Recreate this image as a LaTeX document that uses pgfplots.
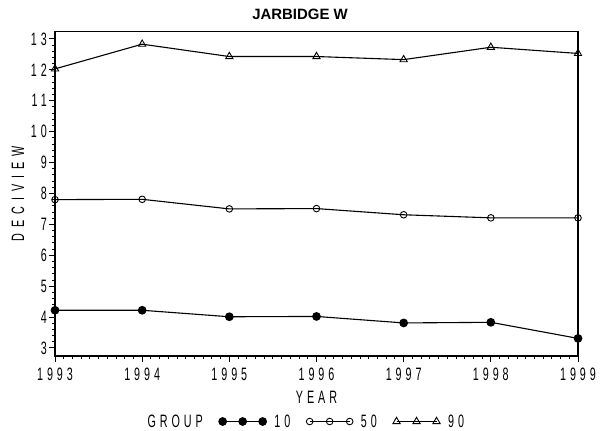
\documentclass[border=0pt]{standalone}
\usepackage{fontspec}
\setmainfont{Liberation Sans}
\newfontfamily\sas{Liberation Sans}[FakeStretch=0.6, LetterSpace=22]
\newfontfamily\sasw{Liberation Sans}[FakeStretch=0.6, LetterSpace=33]
\usepackage{pgfplots}
\pgfplotsset{compat=1.18}
\begin{document}
\begin{tikzpicture}
\begin{axis}[name=ax, scale only axis, width=523bp, height=324.5bp,
  xmin=1993, xmax=1999, ymin=2.74, ymax=13.24,
  xtick={1993,1994,1995,1996,1997,1998,1999}, ytick={3,4,5,6,7,8,9,10,11,12,13},
  minor x tick num=9, minor y tick num=4,
  tick align=outside, tick pos=left,
  major tick length=6bp, minor tick length=3bp,
  every tick/.style={black, line width=1bp},
  every minor tick/.style={black, line width=0.9bp},
  axis line style={black, line width=1.1bp},
  /pgf/number format/assume math mode=true,
  /pgf/number format/1000 sep={},
  tick label style={font=\sas\fontsize{18}{18}\selectfont},
  xticklabel style={inner sep=5.5bp},
  yticklabel style={inner sep=2bp},
  every axis x label/.style={at={(axis description cs:0.5,0)}, yshift=-41bp, anchor=center, font=\sas\fontsize{18}{18}\selectfont},
  every axis y label/.style={at={(axis description cs:0,0.5)}, xshift=-37bp, rotate=90, anchor=center, font=\sasw\fontsize{18}{18}\selectfont},
  every axis title/.style={at={(axis description cs:0.4685,1)}, yshift=17.5bp, anchor=center, font=\bfseries\fontsize{15}{15}\selectfont},
  xlabel={YEAR}, ylabel={DECIVIEW}, title={JARBIDGE W},
  legend columns=-1,
  legend style={at={(axis description cs:0.472,0)}, yshift=-65.5bp, anchor=center, draw=none, fill=none,
    font=\sas\fontsize{18}{18}\selectfont,
    nodes={inner xsep=0bp, inner ysep=1bp},
    /tikz/every odd column/.style={column sep=8bp},
    /tikz/every even column/.style={column sep=16bp}},
  legend image code/.code={\draw[mark repeat=1,mark phase=1,#1] plot coordinates {(0bp,0bp) (20bp,0bp) (40bp,0bp)};},
  every axis plot/.append style={black, line width=1.1bp},
]
\addlegendimage{empty legend}
\addlegendentry{GROUP}
\addplot[mark=*, mark size=3.8bp, mark options={solid, fill=black}] coordinates {
  (1993,4.22) (1994,4.22) (1995,4.01) (1996,4.02) (1997,3.81) (1998,3.83) (1999,3.31)};
\addlegendentry{10}
\addplot[mark=o, mark size=3.3bp, mark options={solid, line width=0.9bp}] coordinates {
  (1993,7.80) (1994,7.81) (1995,7.50) (1996,7.51) (1997,7.31) (1998,7.21) (1999,7.21)};
\addlegendentry{50}
\addplot[mark=triangle, mark size=4.2bp, mark options={solid, line width=0.9bp}] coordinates {
  (1993,12.03) (1994,12.83) (1995,12.43) (1996,12.43) (1997,12.33) (1998,12.73) (1999,12.53)};
\addlegendentry{90}
\end{axis}
\pgfresetboundingbox
\path ([xshift=-55bp,yshift=-74bp]ax.south west) rectangle ([xshift=22bp,yshift=31.5bp]ax.north east);
\end{tikzpicture}
\end{document}
